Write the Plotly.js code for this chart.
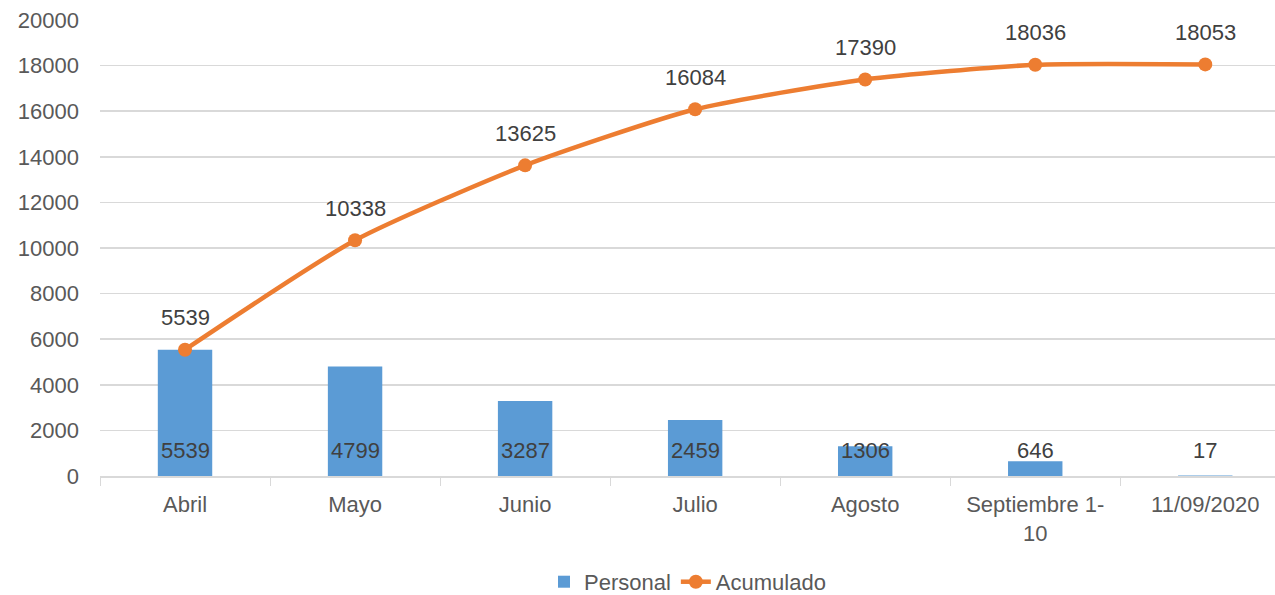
<!DOCTYPE html>
<html><head><meta charset="utf-8">
<script src="https://cdn.plot.ly/plotly-3.0.1.min.js"></script>
<style>body{margin:0}#c{width:1275px;height:595px}</style>
</head><body><div id="c"></div>
<script>
const categories = ["Abril","Mayo","Junio","Julio","Agosto","Septiembre 1-<br>10","11/09/2020"];
const personal = [5539,4799,3287,2459,1306,646,17];
const acumulado = [5539,10338,13625,16084,17390,18036,18053];
const yTicks = [0,2000,4000,6000,8000,10000,12000,14000,16000,18000,20000];

const FAM = "Liberation Sans, Arial, sans-serif";
const labelFont = {family:FAM, size:22, color:"#404040"};
const traces = [
  {type:"bar", name:"Personal", x:categories, y:personal, marker:{color:"#5B9BD5"}, width:0.32},
  {type:"scatter", mode:"lines+markers", name:"Acumulado", x:categories, y:acumulado,
   line:{color:"#ED7D31", width:4.5, shape:"spline", smoothing:0.6}, marker:{color:"#ED7D31", size:14}}
];
const annotations = [];
categories.forEach((c,i)=>{
  annotations.push({x:c, y:0, text:String(personal[i]), showarrow:false, yanchor:"middle", yshift:26, font:labelFont});
  annotations.push({x:c, y:acumulado[i], text:String(acumulado[i]), showarrow:false, yanchor:"middle", yshift:32, font:labelFont});
});
const layout = {
  width:1275, height:595, margin:{l:100, r:0, t:20, b:119},
  paper_bgcolor:"#fff", plot_bgcolor:"#fff",
  font:{family:FAM, size:22, color:"#595959"},
  showlegend:true, annotations:annotations,
  legend:{orientation:"h", x:0.5, xanchor:"center", yref:"container", y:0.022, yanchor:"middle", font:{size:22, color:"#595959"}, traceorder:"normal"},
  xaxis:{type:"category", range:[-0.5, 6.41], showgrid:false, showline:true, linecolor:"#d9d9d9", linewidth:1.5,
         ticks:"outside", tickson:"boundaries", ticklen:8, tickcolor:"#d9d9d9", tickfont:{size:22, color:"#595959"},
         ticklabelstandoff:8, automargin:false},
  yaxis:{range:[0,20000], tickvals:yTicks, ticktext:yTicks.map(String), showgrid:true, gridcolor:"#d9d9d9", gridwidth:1.5,
         zeroline:false, showline:false, tickfont:{size:22, color:"#595959"}, ticklabelstandoff:20, automargin:false},
  bargap:0.68
};
Plotly.newPlot("c", traces, layout, {displayModeBar:false, staticPlot:true});
</script></body></html>
